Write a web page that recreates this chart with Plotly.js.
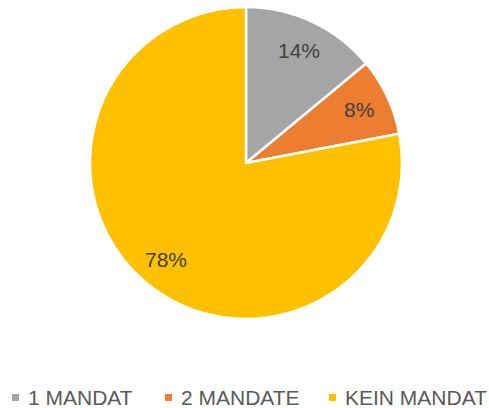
<!DOCTYPE html>
<html><head><meta charset="utf-8">
<script src="https://cdn.plot.ly/plotly-3.0.1.min.js"></script>
<style>html,body{margin:0;padding:0;background:#fff;}#c{width:489px;height:408px;}</style>
</head><body><div id="c"></div>
<script>
const categories = ["1 MANDAT", "2 MANDATE", "KEIN MANDAT"];
const values = [14, 8, 78];
const colors = ["#A5A5A5", "#ED7D31", "#FFC000"];

const W = 489, H = 408;
const M = {l: 90, r: 87, t: 7, b: 89};
const pw = W - M.l - M.r, ph = H - M.t - M.b;
const R = Math.min(pw, ph) / 2;
const cx = M.l + pw / 2, cy = M.t + ph / 2;
const fontFam = "Liberation Sans, Arial, sans-serif";

const total = values.reduce((a, b) => a + b, 0);
const annotations = [];
let cum = 0;
values.forEach((v, i) => {
  const mid = (cum + v / 2) / total * 2 * Math.PI;
  cum += v;
  const px = cx + 0.8 * R * Math.sin(mid);
  const py = cy - 0.8 * R * Math.cos(mid);
  annotations.push({
    xref: "paper", yref: "paper",
    x: (px - M.l) / pw, y: 1 - (py - M.t) / ph,
    xanchor: "center", yanchor: "middle",
    text: Math.round(v / total * 100) + "%",
    showarrow: false,
    font: {family: fontFam, size: 21, color: "#404040"}
  });
});

// custom legend
const legX = [12, 165, 329];
const legY = 397.5;
const shapes = [];
categories.forEach((c, i) => {
  const x0 = legX[i], x1 = legX[i] + 7;
  shapes.push({
    type: "rect", xref: "paper", yref: "paper",
    x0: (x0 - M.l) / pw, x1: (x1 - M.l) / pw,
    y0: 1 - (legY + 3.5 - M.t) / ph, y1: 1 - (legY - 3.5 - M.t) / ph,
    fillcolor: colors[i], line: {width: 0}
  });
  annotations.push({
    xref: "paper", yref: "paper",
    x: (legX[i] + 14 - M.l) / pw, y: 1 - (legY - M.t) / ph,
    xanchor: "left", yanchor: "middle",
    text: c, showarrow: false,
    font: {family: fontFam, size: 21, color: "#595959"}
  });
});

Plotly.newPlot("c", [{
  type: "pie",
  labels: categories,
  values: values,
  sort: false,
  direction: "clockwise",
  rotation: 0,
  marker: {colors: colors, line: {color: "#ffffff", width: 2.5}},
  textinfo: "none",
  hoverinfo: "none"
}], {
  width: W, height: H,
  margin: M,
  paper_bgcolor: "#fff",
  showlegend: false,
  annotations: annotations,
  shapes: shapes
}, {displayModeBar: false, staticPlot: true});
</script></body></html>
